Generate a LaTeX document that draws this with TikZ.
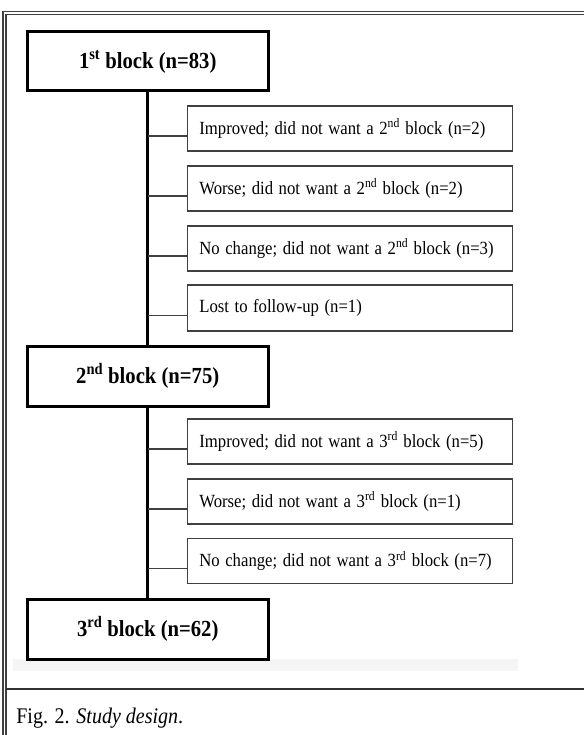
\documentclass[tikz,border=0pt]{standalone}
\usepackage{fontspec}
\setmainfont{Liberation Serif}
\begin{document}
\begin{tikzpicture}[x=1pt,y=-1pt,xscale=0.898,transform shape,
  block/.style={draw=black,line width=3pt,minimum width=268pt,inner sep=0pt,minimum height=60pt,font=\fontsize{23}{25}\selectfont\bfseries},
  side/.style={draw=black!75,line width=1.3pt,minimum width=362pt,text width=336pt,inner xsep=13pt,inner ysep=0pt,minimum height=45pt,align=left,font=\fontsize{18.6}{20}\selectfont},
  trunk/.style={line width=3pt,black},
  branch/.style={line width=1.3pt,black!75},
  frame/.style={line width=1.5pt,black!75}]
\useasboundingbox (0,0) rectangle (650.3,735);
\begin{scope}
\clip (0,0) rectangle (650.3,735);
\draw[frame] (3.3,760) -- (3.3,11.3) -- (700,11.3);
\draw[frame] (6.8,760) -- (6.8,14.5) -- (700,14.5);
\draw[line width=2pt,black!80] (6.8,689) -- (700,689);
\end{scope}
\fill[black!4] (15,659) rectangle (577,671);
\node[block,minimum height=59pt] (b1) at (164.5,61.5) {1\textsuperscript{st} block (n=83)};
\node[block] (b2) at (164.5,376) {2\textsuperscript{nd} block (n=75)};
\node[block] (b3) at (164.5,629) {3\textsuperscript{rd} block (n=62)};
\node[side] (s1) at (390,128.5) {Improved; did not want a 2\textsuperscript{nd} block (n=2)};
\node[side] (s2) at (390,188.5) {Worse; did not want a 2\textsuperscript{nd} block (n=2)};
\node[side] (s3) at (390,248.5) {No change; did not want a 2\textsuperscript{nd} block (n=3)};
\node[side,minimum height=46pt] (s4) at (390,308) {Lost to follow-up (n=1)};
\node[side] (s5) at (390,441.5) {Improved; did not want a 3\textsuperscript{rd} block (n=5)};
\node[side] (s6) at (390,501.5) {Worse; did not want a 3\textsuperscript{rd} block (n=1)};
\node[side] (s7) at (390,561) {No change; did not want a 3\textsuperscript{rd} block (n=7)};
\draw[trunk] (b1.south) -- (b2.north);
\draw[trunk] (b2.south) -- (b3.north);
\foreach \s in {s1,s2,s3,s4}
  \draw[branch] ([yshift=-7.5pt]\s.west) -- ([yshift=-7.5pt]\s.west -| b1.south);
\foreach \s in {s5,s6,s7}
  \draw[branch] ([yshift=-7.5pt]\s.west) -- ([yshift=-7.5pt]\s.west -| b2.south);
\node[anchor=base west,inner sep=0pt,font=\fontsize{22.3}{24}\selectfont] (cap) at (18,723) {Fig. 2. \textit{Study design}.};
\end{tikzpicture}
\end{document}
